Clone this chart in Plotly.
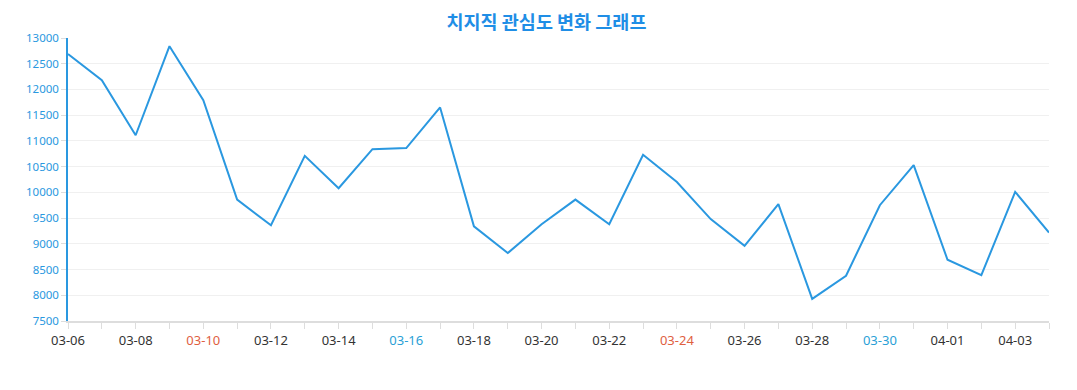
import plotly.graph_objects as go

dates = ["03-06","03-07","03-08","03-09","03-10","03-11","03-12","03-13","03-14","03-15",
         "03-16","03-17","03-18","03-19","03-20","03-21","03-22","03-23","03-24","03-25",
         "03-26","03-27","03-28","03-29","03-30","03-31","04-01","04-02","04-03","04-04"]
values = [12690,12180,11110,12840,11790,9860,9360,10710,10080,10840,
          10860,11650,9340,8820,9380,9860,9380,10730,10200,9480,
          8960,9770,7930,8380,9750,10530,8690,8390,10010,9220]
red_labels = ["03-10","03-24"]
blue_labels = ["03-16","03-30"]
title = "치지직 관심도 변화 그래프"

def lab(i, d):
    if i % 2:
        return ""
    if d in red_labels:
        return f'<span style="color:#e0603f">{d}</span>'
    if d in blue_labels:
        return f'<span style="color:#2a9fd6">{d}</span>'
    return d

ticktext = [lab(i, d) for i, d in enumerate(dates)]

fig = go.Figure(go.Scatter(x=dates, y=values, mode="lines",
                           line=dict(color="#2a98e0", width=2)))
fig.update_layout(
    width=1077, height=390,
    margin=dict(l=60, r=36, t=30, b=77),
    paper_bgcolor="white", plot_bgcolor="white",
    font=dict(family="Noto Sans, Noto Sans CJK KR, sans-serif"),
    title=dict(text=f"<b>{title}</b>", x=0.5, xanchor="center", y=0.962, yanchor="middle",
               font=dict(size=18.5, color="#1f8ee6", family="Noto Sans CJK KR, Noto Sans")),
    showlegend=False,
)
fig.update_xaxes(type="category", range=[0, len(dates) - 1],
                 tickmode="array", tickvals=dates, ticktext=ticktext,
                 showgrid=False, showline=True, linecolor="#dddddd", linewidth=2,
                 ticks="outside", ticklen=6, tickcolor="#dddddd",
                 tickfont=dict(size=13, color="#333333"), zeroline=False)
fig.update_yaxes(range=[7500, 13000], dtick=500, tickformat="d",
                 showgrid=True, gridcolor="#f0f0f0", gridwidth=1,
                 showline=True, linecolor="#2a98e0", linewidth=1.5,
                 ticks="outside", ticklen=5, tickcolor="#dddddd",
                 tickfont=dict(size=11.5, color="#2a98e0"), zeroline=False)
fig.write_html("out.html")
